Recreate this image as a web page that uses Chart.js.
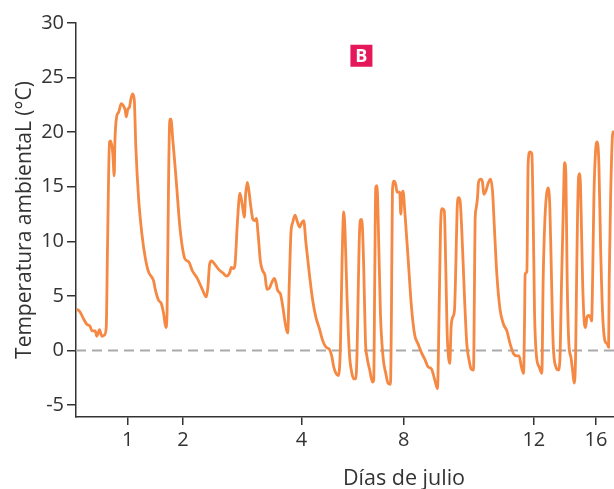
<!DOCTYPE html>
<html>
<head>
<meta charset="utf-8">
<script src="https://cdn.jsdelivr.net/npm/chart.js@4"></script>
<style>
  html, body { margin: 0; padding: 0; overflow: hidden; background: #fff; }
  #wrap { width: 732px; height: 489px; }
</style>
</head>
<body>
<div id="wrap"><canvas id="chart" width="732" height="489"></canvas></div>
<script>
// position along the (cropped) time axis, and temperature in °C
const xs = [0.8, 4.2, 7.5, 10.8, 14.2, 15.8, 19.2, 20.8, 23.5, 25.8, 28.2, 30.2, 31.5, 33.5, 34.8, 36.8, 38.2, 38.8,
    40.8, 42.5, 45.2, 47.5, 49.2, 50.2, 51.8, 53.5, 54.8, 56.5, 58.2, 59.8, 62.5, 65.8, 69.2, 72.5, 75.8, 77.5, 79.2,
    82.5, 85.2, 87.5, 89.8, 91.0, 92.5, 93.8, 94.8, 96.8, 98.8, 101.2, 103.5, 106.2, 108.8, 112.8, 116.2, 121.2, 126.2,
    130.2, 131.8, 133.5, 135.5, 137.8, 142.8, 146.8, 150.5, 153.5, 155.2, 157.2, 158.8, 161.2, 163.8, 166.2, 168.2,
    169.5, 171.2, 172.8, 174.8, 176.8, 178.8, 180.2, 182.2, 184.2, 186.5, 188.8, 190.8, 193.2, 195.5, 198.2, 199.8,
    201.5, 204.2, 206.5, 208.2, 209.8, 211.5, 213.2, 214.8, 216.5, 218.8, 221.5, 223.5, 225.5, 227.5, 229.8, 233.2,
    236.5, 239.8, 243.2, 246.5, 249.8, 253.2, 255.5, 257.5, 259.8, 262.2, 264.2, 265.8, 267.5, 268.8, 270.8, 273.2,
    275.5, 277.5, 279.5, 280.8, 282.2, 283.5, 284.8, 286.2, 287.5, 289.2, 290.8, 293.5, 296.2, 297.5, 298.5, 299.5,
    300.8, 302.2, 304.2, 306.8, 309.5, 311.8, 314.2, 315.2, 316.2, 317.8, 319.5, 320.8, 323.5, 324.5, 325.8, 326.8,
    328.5, 331.8, 335.2, 338.5, 341.8, 345.2, 348.5, 351.8, 355.2, 358.5, 361.2, 362.8, 364.2, 365.5, 368.0, 369.5,
    370.8, 372.2, 373.5, 374.8, 376.2, 378.2, 379.5, 380.8, 382.2, 383.8, 385.5, 388.2, 390.5, 392.8, 394.8, 397.2,
    398.2, 398.8, 399.8, 401.2, 402.2, 404.5, 406.2, 407.5, 409.5, 412.2, 414.2, 416.2, 418.2, 420.5, 423.8, 427.2,
    430.5, 433.8, 437.2, 440.5, 442.8, 444.8, 447.2, 448.2, 448.8, 450.5, 451.8, 453.5, 455.5, 456.8, 458.2, 460.2,
    462.8, 465.5, 466.8, 468.5, 470.2, 471.8, 473.5, 475.2, 476.8, 479.5, 481.8, 483.5, 485.2, 486.8, 488.2, 489.5,
    490.8, 492.5, 494.5, 496.2, 497.8, 499.2, 500.2, 501.2, 502.2, 503.5, 504.8, 506.2, 507.8, 509.2, 510.5, 512.5,
    514.2, 515.2, 516.2, 517.5, 519.2, 520.8, 522.5, 524.2, 526.2, 528.5, 530.8, 532.2, 532.8, 534.2, 536.2, 537.5];
const temps = [3.8, 3.5, 2.9, 2.4, 2.2, 1.8, 1.8, 1.3, 1.9, 1.3, 1.4, 2.1, 9.5, 19.1, 19.2, 18.0, 16.0, 18.9,
    21.5, 21.8, 22.6, 22.4, 22.0, 21.4, 22.1, 22.3, 23.0, 23.5, 23.0, 18.6, 14.0, 10.7, 8.5, 7.2, 6.7, 6.4, 5.6,
    4.6, 4.3, 3.4, 2.1, 3.5, 15.6, 21.2, 21.2, 19.2, 17.1, 14.3, 11.6, 9.5, 8.4, 8.1, 7.3, 6.6, 5.6,
    4.9, 5.8, 7.9, 8.2, 8.0, 7.4, 7.1, 6.8, 7.1, 7.6, 7.5, 7.8, 11.6, 14.4, 13.3, 12.2,
    14.3, 15.4, 14.6, 13.1, 12.0, 11.9, 12.1, 10.4, 8.2, 7.3, 6.9, 5.6, 5.7, 6.2, 6.6, 6.2,
    5.5, 5.2, 4.1, 3.0, 2.1, 1.6, 6.4, 10.8, 11.7, 12.4, 11.7, 11.3, 11.7, 11.9, 9.8, 7.0,
    4.6, 3.0, 2.0, 0.9, 0.3, 0.1, -0.5, -1.5, -2.1, -2.3, 0.3, 7.9, 12.7, 11.0, 4.9, -0.3,
    -2.0, -2.6, -2.6, -0.3, 6.4, 11.3, 12.0, 11.3, 7.6, 0.9, -0.6, -1.8, -2.9, -2.7, 6.4, 14.9,
    15.1, 11.0, 3.4, -0.6, -2.1, -3.0, -3.1, 3.4, 14.6, 15.5, 15.2, 14.5, 14.5, 12.5, 14.3, 14.6,
    12.8, 8.5, 4.0, 1.4, 0.6, -0.2, -0.8, -1.5, -1.7, -2.7, -3.5, 3.4, 11.0, 13.0, 12.8, 7.6,
    1.8, -0.6, -1.2, 2.1, 3.0, 3.7, 7.6, 12.8, 14.0, 13.7, 11.0, 4.9, 0.6, -0.9, -1.7, -1.8,
    6.4, 11.9, 13.0, 14.0, 15.4, 15.7, 15.4, 14.3, 14.6, 15.4, 15.7, 14.6, 11.0, 7.0, 3.7, 2.4,
    1.8, 0.6, -0.3, -0.5, -0.5, -1.4, -2.1, 2.7, 7.0, 7.2, 17.1, 18.2, 18.0, 12.5, 3.4, -0.6,
    -1.5, -2.1, 6.4, 11.9, 14.3, 14.9, 13.1, 6.4, 0.6, -1.5, -1.8, -0.9, 6.4, 12.5, 17.2, 16.2,
    6.4, 0.6, -0.6, -1.8, -3.0, -0.6, 6.4, 12.5, 15.9, 16.2, 12.5, 6.4, 2.7, 2.1, 3.0, 3.2,
    3.0, 2.7, 6.4, 14.0, 18.3, 19.1, 17.1, 9.5, 3.4, 0.9, 0.6, 0.3, 6.4, 14.0, 19.8, 20.1];

const xTickPos = [51.8, 106.8, 225.2, 327.5, 457.5, 519.5];
const xTickLabels = ['1', '2', '4', '8', '12', '16'];
const yTicks = [-5, 0, 5, 10, 15, 20, 25, 30];
const xRange = [0, 655.5];
const yRange = [-6.1, 30];
const badge = { x: 285.2, y: 27.0, text: 'B' };

const FONT = '"Open Sans", sans-serif';
const INK = '#333333';

const badgePlugin = {
    id: 'badge',
    afterDatasetsDraw(chart) {
        const { ctx, scales } = chart;
        const cx = scales.x.getPixelForValue(badge.x);
        const cy = scales.y.getPixelForValue(badge.y);
        ctx.save();
        ctx.fillStyle = '#e5185b';
        ctx.fillRect(cx - 11, cy - 11, 22, 22);
        ctx.fillStyle = '#ffffff';
        ctx.font = 'bold 18px ' + FONT;
        ctx.textAlign = 'center';
        ctx.textBaseline = 'middle';
        ctx.fillText(badge.text, cx, cy + 1);
        ctx.restore();
    }
};

new Chart(document.getElementById('chart'), {
    type: 'line',
    data: {
        datasets: [
            {
                data: xs.map((x, i) => ({ x: x, y: temps[i] })),
                borderColor: '#f58842',
                borderWidth: 2.8,
                pointRadius: 0,
                cubicInterpolationMode: 'monotone',
                order: 1
            },
            {
                data: xRange.map(x => ({ x: x, y: 0 })),
                borderColor: '#aaaaaa',
                borderWidth: 2,
                borderDash: [10, 6],
                pointRadius: 0,
                order: 2
            }
        ]
    },
    options: {
        responsive: false,
        animation: false,
        layout: { padding: { top: 23, right: 0, bottom: 0, left: 0 } },
        plugins: { legend: { display: false }, tooltip: { enabled: false } },
        scales: {
            x: {
                type: 'linear',
                min: xRange[0],
                max: xRange[1],
                afterBuildTicks: s => { s.ticks = xTickPos.map(v => ({ value: v })); },
                afterFit: s => { s.height = 72; },
                ticks: {
                    callback: (v, i) => xTickLabels[i],
                    autoSkip: false,
                    maxRotation: 0,
                    padding: 3,
                    color: INK,
                    font: { family: FONT, size: 20 }
                },
                grid: { drawOnChartArea: false, tickLength: 8, color: INK, lineWidth: 1.5 },
                border: { color: INK, width: 1.5 },
                title: {
                    display: true,
                    text: 'Días de julio',
                    color: INK,
                    font: { family: FONT, size: 21.5 },
                    padding: { top: 0, bottom: -3 }
                }
            },
            y: {
                min: yRange[0],
                max: yRange[1],
                afterBuildTicks: s => { s.ticks = yTicks.map(v => ({ value: v })); },
                afterFit: s => { s.width = 76; },
                ticks: {
                    padding: 3,
                    color: INK,
                    font: { family: FONT, size: 20 }
                },
                grid: { drawOnChartArea: false, tickLength: 9, color: INK, lineWidth: 1.5 },
                border: { color: INK, width: 1.5 },
                title: {
                    display: true,
                    text: 'Temperatura ambientaL (°C)',
                    color: INK,
                    font: { family: FONT, size: 21 },
                    padding: { top: 12, bottom: 0 }
                }
            }
        }
    },
    plugins: [badgePlugin]
});
</script>
</body>
</html>
